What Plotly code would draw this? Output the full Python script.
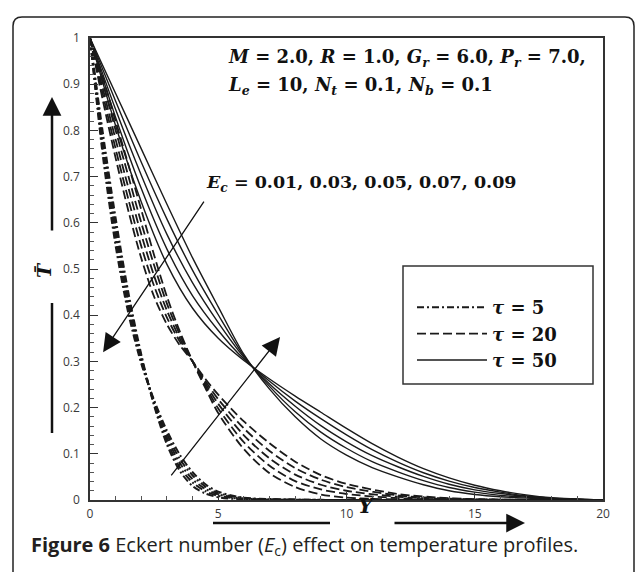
import plotly.graph_objects as go

# ---------------- data ----------------
ec_values = ["0.01", "0.03", "0.05", "0.07", "0.09"]

# tau = 5  (dash-dot)
y_tau5 = [0, 0.5, 1, 1.5, 2, 2.5, 3, 3.5, 4, 4.5, 5, 6, 8, 10, 15, 20]
t_tau5_ec01 = [1, 0.795, 0.610, 0.448, 0.315, 0.204, 0.120, 0.063, 0.030, 0.014, 0.006, 0.001, 0.0, 0, 0, 0]
t_tau5_ec03 = [1, 0.783, 0.595, 0.436, 0.310, 0.207, 0.128, 0.071, 0.038, 0.019, 0.009, 0.002, 0.0003, 0, 0, 0]
t_tau5_ec05 = [1, 0.770, 0.580, 0.425, 0.305, 0.210, 0.135, 0.080, 0.045, 0.024, 0.012, 0.003, 0.0005, 0, 0, 0]
t_tau5_ec07 = [1, 0.758, 0.565, 0.414, 0.300, 0.213, 0.143, 0.089, 0.053, 0.029, 0.015, 0.004, 0.0008, 0, 0, 0]
t_tau5_ec09 = [1, 0.745, 0.550, 0.403, 0.295, 0.216, 0.150, 0.098, 0.060, 0.034, 0.018, 0.005, 0.001, 0, 0, 0]

# tau = 20 (dashed)
y_tau20 = [0, 0.5, 1, 1.5, 2, 2.5, 3, 3.5, 4, 4.5, 5, 6, 7, 8, 9, 10, 12, 14, 16, 20]
t_tau20_ec01 = [1, 0.915, 0.820, 0.725, 0.628, 0.530, 0.440, 0.365, 0.300, 0.242, 0.188, 0.110, 0.058, 0.028, 0.012, 0.005, 0.001, 0, 0, 0]
t_tau20_ec03 = [1, 0.903, 0.800, 0.700, 0.600, 0.508, 0.425, 0.358, 0.300, 0.247, 0.198, 0.125, 0.074, 0.041, 0.023, 0.013, 0.004, 0.001, 0.0003, 0]
t_tau20_ec05 = [1, 0.890, 0.780, 0.675, 0.575, 0.485, 0.410, 0.350, 0.300, 0.252, 0.208, 0.140, 0.090, 0.055, 0.033, 0.020, 0.007, 0.002, 0.0005, 0]
t_tau20_ec07 = [1, 0.878, 0.760, 0.650, 0.549, 0.463, 0.395, 0.343, 0.300, 0.257, 0.218, 0.155, 0.106, 0.069, 0.044, 0.028, 0.010, 0.003, 0.0008, 0]
t_tau20_ec09 = [1, 0.865, 0.740, 0.625, 0.523, 0.440, 0.380, 0.335, 0.300, 0.262, 0.228, 0.170, 0.123, 0.083, 0.054, 0.035, 0.013, 0.004, 0.001, 0]

# tau = 50 (solid)
y_tau50 = [0, 1, 2, 3, 4, 5, 6, 7, 8, 9, 10, 11, 12, 13, 14, 15, 16, 17, 18, 20]
t_tau50_ec01 = [1, 0.880, 0.760, 0.640, 0.524, 0.418, 0.315, 0.240, 0.180, 0.132, 0.097, 0.070, 0.050, 0.033, 0.020, 0.012, 0.007, 0.004, 0.002, 0]
t_tau50_ec03 = [1, 0.863, 0.731, 0.608, 0.497, 0.401, 0.312, 0.246, 0.191, 0.147, 0.112, 0.083, 0.061, 0.042, 0.027, 0.017, 0.010, 0.006, 0.003, 0]
t_tau50_ec05 = [1, 0.845, 0.703, 0.575, 0.470, 0.384, 0.309, 0.251, 0.203, 0.161, 0.126, 0.096, 0.072, 0.051, 0.034, 0.022, 0.014, 0.008, 0.004, 0]
t_tau50_ec07 = [1, 0.828, 0.674, 0.543, 0.442, 0.367, 0.305, 0.257, 0.214, 0.176, 0.141, 0.109, 0.082, 0.059, 0.041, 0.027, 0.017, 0.009, 0.004, 0]
t_tau50_ec09 = [1, 0.810, 0.645, 0.510, 0.415, 0.350, 0.302, 0.262, 0.225, 0.190, 0.155, 0.122, 0.093, 0.068, 0.048, 0.032, 0.020, 0.011, 0.005, 0]

x_ticks = [0, 5, 10, 15, 20]
y_ticks = [0, 0.1, 0.2, 0.3, 0.4, 0.5, 0.6, 0.7, 0.8, 0.9, 1]
legend_labels = ["<b><i>τ</i> = 5</b>", "<b><i>τ</i> = 20</b>", "<b><i>τ</i> = 50</b>"]

groups = [
    (y_tau5, [t_tau5_ec01, t_tau5_ec03, t_tau5_ec05, t_tau5_ec07, t_tau5_ec09], "7px,3px,2px,3px", 2.0, legend_labels[0]),
    (y_tau20, [t_tau20_ec01, t_tau20_ec03, t_tau20_ec05, t_tau20_ec07, t_tau20_ec09], "9px,4px", 1.8, legend_labels[1]),
    (y_tau50, [t_tau50_ec01, t_tau50_ec03, t_tau50_ec05, t_tau50_ec07, t_tau50_ec09], "solid", 1.4, legend_labels[2]),
]

LINE = "#1a1a1a"
SERIF = "DejaVu Serif"
SANS = "Open Sans"

fig = go.Figure()
for gi, (yy, curves, dash, width, label) in enumerate(groups):
    for ci, tt in enumerate(curves):
        fig.add_trace(go.Scatter(
            x=yy, y=tt, mode="lines",
            line=dict(color=LINE, width=width, dash=dash, shape="spline", smoothing=0.8),
            name=label, legendgroup=label, showlegend=(ci == 0),
            hovertext="Ec = " + ec_values[ci],
        ))

W, H = 637, 572
L, R, T, B = 90, 34, 38, 72
pw, ph = W - L - R, H - T - B


def px(xp):
    return (xp - L) / pw


def py(yp):
    return (H - B - yp) / ph


shapes = []
# outer rounded frame
x0, x1, y0, y1 = px(13), px(634), py(17), py(585)
rx, ry = 9 / pw, 9 / ph
path = (f"M {x0},{y1} L {x0},{y0-ry} Q {x0},{y0} {x0+rx},{y0} "
        f"L {x1-rx},{y0} Q {x1},{y0} {x1},{y0-ry} L {x1},{y1}")
shapes.append(dict(type="path", xref="paper", yref="paper", path=path,
                   line=dict(color="#222", width=1.5)))
# legend box
shapes.append(dict(type="rect", xref="paper", yref="paper",
                   x0=px(403), x1=px(593), y0=py(384), y1=py(266),
                   line=dict(color="#333", width=1.5), fillcolor="rgba(0,0,0,0)"))
# left vertical bar (no head)
shapes.append(dict(type="line", xref="paper", yref="paper",
                   x0=px(52), x1=px(52), y0=py(303), y1=py(433),
                   line=dict(color="#111", width=2.5)))
# bottom line (no head)
shapes.append(dict(type="line", xref="paper", yref="paper",
                   x0=px(213), x1=px(330), y0=py(523), y1=py(523),
                   line=dict(color="#111", width=2.5)))

annotations = [
    dict(xref="paper", yref="paper", x=px(226), y=py(58), xanchor="left", yanchor="middle",
         text="<b><i>M</i> = 2.0, <i>R</i> = 1.0, <i>G<sub>r</sub></i> = 6.0, <i>P<sub>r</sub></i> = 7.0,</b>",
         showarrow=False, font=dict(family=SERIF, size=18, color="#111")),
    dict(xref="paper", yref="paper", x=px(226), y=py(86), xanchor="left", yanchor="middle",
         text="<b><i>L<sub>e</sub></i> = 10, <i>N<sub>t</sub></i> = 0.1, <i>N<sub>b</sub></i> = 0.1</b>",
         showarrow=False, font=dict(family=SERIF, size=18, color="#111")),
    dict(xref="paper", yref="paper", x=px(204), y=py(183), xanchor="left", yanchor="middle",
         text="<b><i>E<sub>c</sub></i> = 0.01, 0.03, 0.05, 0.07, 0.09</b>",
         showarrow=False, font=dict(family=SERIF, size=17.5, color="#111")),
    # arrows in data space
    dict(x=0.51, y=0.32, ax=4.48, ay=0.649, xref="x", yref="y", axref="x", ayref="y",
         text="", showarrow=True, arrowhead=2, arrowsize=2.8, arrowwidth=1.3, arrowcolor="#111"),
    dict(x=7.41, y=0.353, ax=3.12, ay=0.05, xref="x", yref="y", axref="x", ayref="y",
         text="", showarrow=True, arrowhead=2, arrowsize=2.8, arrowwidth=1.3, arrowcolor="#111"),
    # outer arrows
    dict(xref="paper", yref="paper", x=px(52), y=py(97), ax=0, ay=135,
         text="", showarrow=True, arrowhead=2, arrowsize=1.5, arrowwidth=2.5, arrowcolor="#111"),
    dict(xref="paper", yref="paper", x=px(525), y=py(523), ax=-132, ay=0,
         text="", showarrow=True, arrowhead=2, arrowsize=1.5, arrowwidth=2.5, arrowcolor="#111"),
    # axis titles
    dict(xref="paper", yref="paper", x=px(44), y=py(270), xanchor="center", yanchor="middle",
         text="<b><i>T\u0304</i></b>",
         textangle=-90, showarrow=False, font=dict(family=SERIF, size=19, color="#111")),
    dict(xref="paper", yref="paper", x=px(366), y=py(520), text="<b><i>Y</i></b>",
         showarrow=False, font=dict(family=SERIF, size=21, color="#111")),
    # caption
    dict(xref="paper", yref="paper", x=px(29), y=py(545), xanchor="left", yanchor="middle",
         text="<b>Figure 6</b> Eckert number (<i>E</i><sub>c</sub>) effect on temperature profiles.",
         showarrow=False, font=dict(family=SANS, size=20, color="#231f20")),
]

fig.update_layout(
    width=W, height=H,
    margin=dict(l=L, r=R, t=T, b=B),
    paper_bgcolor="white", plot_bgcolor="white",
    showlegend=True,
    legend=dict(x=px(412), y=py(289), xanchor="left", yanchor="top",
                bgcolor="rgba(0,0,0,0)", borderwidth=0, itemwidth=70,
                font=dict(family=SERIF, size=18, color="#111"),
                tracegroupgap=0, traceorder="normal"),
    shapes=shapes,
    annotations=annotations,
    xaxis=dict(range=[0, 20], tickvals=x_ticks, ticks="inside", ticklen=8, tickwidth=1,
               tickcolor="#333", showline=True, linecolor="#333", linewidth=1.5, mirror=True,
               showgrid=False, zeroline=False, ticklabelstandoff=2,
               minor=dict(dtick=1, ticks="inside", ticklen=4, tickcolor="#555"),
               tickfont=dict(family=SANS, size=12, color="#3a3a3a")),
    yaxis=dict(range=[0, 1], tickvals=y_ticks, ticks="inside", ticklen=8, tickwidth=1,
               tickcolor="#333", showline=True, linecolor="#333", linewidth=1.5, mirror=True,
               showgrid=False, zeroline=False, ticklabelstandoff=6,
               minor=dict(dtick=0.02, ticks="inside", ticklen=4, tickcolor="#555"),
               tickfont=dict(family=SANS, size=12, color="#3a3a3a")),
)

fig.write_html("out.html")
